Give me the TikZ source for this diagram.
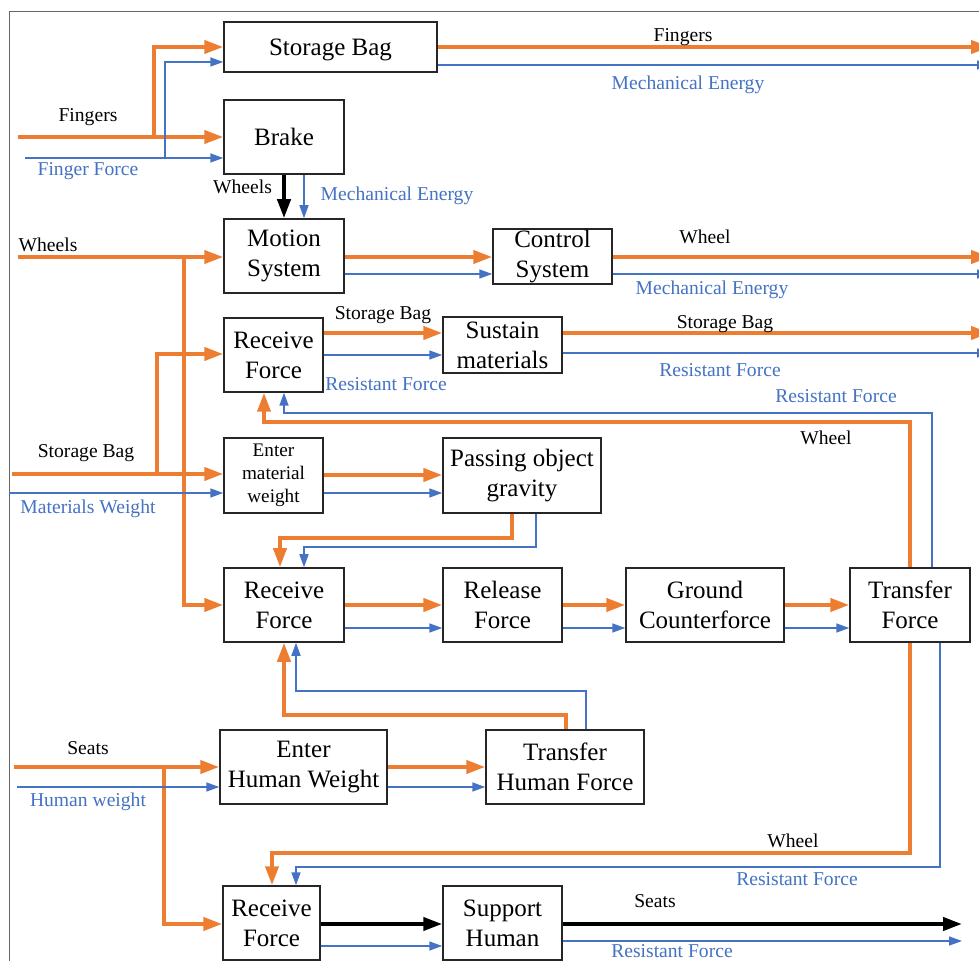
\documentclass[tikz,border=0pt]{standalone}
\usepackage{fontspec}
\setmainfont{Liberation Serif}
\usetikzlibrary{arrows.meta}

\definecolor{fOrange}{RGB}{237,125,49}
\definecolor{fBlue}{RGB}{68,114,196}

\begin{document}
\begin{tikzpicture}[x=0.5pt,y=-0.5pt,
    box/.style={draw=black!85,line width=0.75pt,inner sep=0pt,align=center,
        font=\fontsize{12.5}{15}\selectfont},
    oflow/.style={draw=fOrange,line width=2pt,-{Triangle[length=9.5pt,width=6.5pt]}},
    bflow/.style={draw=fBlue,line width=0.75pt,-{Triangle[length=6.5pt,width=4.5pt]}},
    kflow/.style={draw=black,line width=2pt,-{Triangle[length=9.5pt,width=6.5pt]}},
    lab/.style={font=\fontsize{9.8}{11}\selectfont},
    blab/.style={lab,text=fBlue}]
    \fill[white] (0,0) rectangle (979,961);
    \useasboundingbox (0,0) rectangle (979,961);
    \draw[black!60,line width=0.5pt] (9,961) -- (9,12) -- (979,12);

    % boxes
    \node[box,minimum width=106.5pt,minimum height=25pt,text depth=0pt] (bag) at (330.5,47) {Storage Bag};
    \node[box,minimum width=60pt,minimum height=37pt] (brake) at (284,137) {Brake};
    \node[box,minimum width=60pt,minimum height=37pt] (motion) at (284,256) {Motion\\System};
    \node[box,minimum width=59.5pt,minimum height=27.5pt] (ctrl) at (552.5,256.5) {Control\\System};
    \node[box,minimum width=49.5pt,minimum height=37pt] (rf1) at (273.5,355) {Receive\\Force};
    \node[box,minimum width=59.5pt,minimum height=28pt] (sus) at (502.5,345) {Sustain\\materials};
    \node[box,minimum width=49.5pt,minimum height=37.5pt,font=\fontsize{9.6}{11.5}\selectfont] (emw) at (273.5,475.5) {Enter\\material\\weight};
    \node[box,minimum width=79pt,minimum height=37.5pt] (pog) at (522,475.5) {Passing object\\gravity};
    \node[box,minimum width=60pt,minimum height=37pt] (rf2) at (284,605) {Receive\\Force};
    \node[box,minimum width=59.5pt,minimum height=37pt] (rel) at (502.5,605) {Release\\Force};
    \node[box,minimum width=79pt,minimum height=37pt] (gnd) at (705,605) {Ground\\Counterforce};
    \node[box,minimum width=60pt,minimum height=37pt] (tf) at (910,605) {Transfer\\Force};
    \node[box,minimum width=83.5pt,minimum height=37pt] (ehw) at (303.5,767) {Enter\\Human Weight};
    \node[box,minimum width=79pt,minimum height=37pt] (thf) at (565,767) {Transfer\\Human Force};
    \node[box,minimum width=48.5pt,minimum height=37pt] (rf3) at (271.5,923) {Receive\\Force};
    \node[box,minimum width=59.5pt,minimum height=37pt] (sup) at (502.5,923) {Support\\Human};

    % free ends
    \coordinate (fingIn) at (18,137);
    \coordinate (fingJ) at (154,137);
    \coordinate (ffIn) at (25,158);
    \coordinate (ffJ) at (165,158);
    \coordinate (whIn) at (18,257);
    \coordinate (whJ) at (184,257);
    \coordinate (sbIn) at (12,474);
    \coordinate (sbJ) at (157,474);
    \coordinate (mwIn) at (9,493);
    \coordinate (stIn) at (14,767);
    \coordinate (stJ) at (164,767);
    \coordinate (hwIn) at (17,787);
    \coordinate (bagOut) at (990,47);
    \coordinate (bagOutB) at (990,65);
    \coordinate (ctrlOut) at (990,257);
    \coordinate (ctrlOutB) at (990,274);
    \coordinate (susOut) at (990,333);
    \coordinate (susOutB) at (990,353);
    \coordinate (supOut) at (962,924);
    \coordinate (supOutB) at (962,941);

    % inputs from the left
    \draw[oflow] (fingIn) -- (brake.west |- fingIn);
    \draw[oflow] (fingJ) |- (bag.west |- 0,47);
    \draw[bflow] (ffIn) -- (brake.west |- ffIn);
    \draw[bflow] (ffJ) |- (bag.west |- 0,62);
    \draw[oflow] (whIn) -- (motion.west |- whIn);
    \draw[oflow] (whJ) |- (rf2.west |- 0,605);
    \draw[oflow] (sbIn) -- (emw.west |- sbIn);
    \draw[oflow] (sbJ) |- (rf1.west |- 0,354);
    \draw[bflow] (mwIn) -- (emw.west |- mwIn);
    \draw[oflow] (stIn) -- (ehw.west |- stIn);
    \draw[oflow] (stJ) |- (rf3.west |- 0,924);
    \draw[bflow] (hwIn) -- (ehw.west |- hwIn);
    \node[lab] (lFing) at (88,117) {Fingers};
    \node[blab] (lFF) at (88,171) {Finger Force};
    \node[lab] (lWh) at (48,245) {Wheels};
    \node[lab] (lSB) at (86,453) {Storage Bag};
    \node[blab] (lMW) at (88,509) {Materials Weight};
    \node[lab] (lSt) at (88,748) {Seats};
    \node[blab] (lHW) at (88,802) {Human weight};

    % brake to motion
    \draw[kflow] (brake.south) -- (motion.north);
    \draw[bflow] (brake.south -| 304,0) -- (motion.north -| 304,0);
    \node[lab,anchor=east] (lWh2) at (279,187) {Wheels};
    \node[blab] (lME2) at (397,196) {Mechanical Energy};

    % box to box
    \draw[oflow] (motion.east |- 0,257) -- (ctrl.west |- 0,257);
    \draw[bflow] (motion.east |- 0,274) -- (ctrl.west |- 0,274);
    \draw[oflow] (rf1.east |- 0,333) -- (sus.west |- 0,333);
    \draw[bflow] (rf1.east |- 0,355) -- (sus.west |- 0,355);
    \node[lab] (lSB2) at (383,315) {Storage Bag};
    \node[blab] (lRF2) at (386,384) {Resistant Force};
    \draw[oflow] (emw.east |- 0,475) -- (pog.west |- 0,475);
    \draw[bflow] (emw.east |- 0,493) -- (pog.west |- 0,493);
    \draw[oflow] (rf2.east |- 0,605) -- (rel.west |- 0,605);
    \draw[bflow] (rf2.east |- 0,628) -- (rel.west |- 0,628);
    \draw[oflow] (rel.east |- 0,605) -- (gnd.west |- 0,605);
    \draw[bflow] (rel.east |- 0,628) -- (gnd.west |- 0,628);
    \draw[oflow] (gnd.east |- 0,605) -- (tf.west |- 0,605);
    \draw[bflow] (gnd.east |- 0,628) -- (tf.west |- 0,628);
    \draw[oflow] (ehw.east |- 0,767) -- (thf.west |- 0,767);
    \draw[bflow] (ehw.east |- 0,787) -- (thf.west |- 0,787);
    \draw[kflow] (rf3.east |- 0,924) -- (sup.west |- 0,924);
    \draw[bflow] (rf3.east |- 0,946) -- (sup.west |- 0,946);

    % outputs to the right
    \draw[oflow] (bag.east |- bagOut) -- (bagOut);
    \draw[bflow] (bag.east |- bagOutB) -- (bagOutB);
    \node[lab] (lFing2) at (683,37) {Fingers};
    \node[blab] (lME1) at (688,85) {Mechanical Energy};
    \draw[oflow] (ctrl.east |- ctrlOut) -- (ctrlOut);
    \draw[bflow] (ctrl.east |- ctrlOutB) -- (ctrlOutB);
    \node[lab] (lW1) at (705,237) {Wheel};
    \node[blab] (lME3) at (712,290) {Mechanical Energy};
    \draw[oflow] (sus.east |- susOut) -- (susOut);
    \draw[bflow] (sus.east |- susOutB) -- (susOutB);
    \node[lab] (lSB3) at (725,324) {Storage Bag};
    \node[blab] (lRF3) at (720,370) {Resistant Force};
    \draw[kflow] (sup.east |- supOut) -- (supOut);
    \draw[bflow] (sup.east |- supOutB) -- (supOutB);
    \node[lab] (lSt2) at (655,901) {Seats};
    \node[blab] (lRF6) at (672,951) {Resistant Force};

    % feedback loops
    \draw[oflow] (tf.north) |- (264,422) -- (rf1.south -| 264,0);
    \draw[bflow] (tf.north -| 932,0) |- (284,413) -- (rf1.south -| 284,0);
    \node[blab] (lRF4) at (836,396) {Resistant Force};
    \node[lab] (lW2) at (826,438) {Wheel};
    \draw[oflow] (pog.south -| 512,0) |- (280,538) -- (rf2.north -| 280,0);
    \draw[bflow] (pog.south -| 536,0) |- (304,547) -- (rf2.north -| 304,0);
    \draw[oflow] (thf.north -| 566,0) |- (284,715) -- (rf2.south -| 284,0);
    \draw[bflow] (thf.north -| 586,0) |- (296,691) -- (rf2.south -| 296,0);
    \draw[oflow] (tf.south) |- (272,853) -- (rf3.north -| 272,0);
    \draw[bflow] (tf.south -| 940,0) |- (296,867) -- (rf3.north -| 296,0);
    \node[lab] (lW3) at (793,841) {Wheel};
    \node[blab] (lRF5) at (797,879) {Resistant Force};
\end{tikzpicture}
\end{document}
